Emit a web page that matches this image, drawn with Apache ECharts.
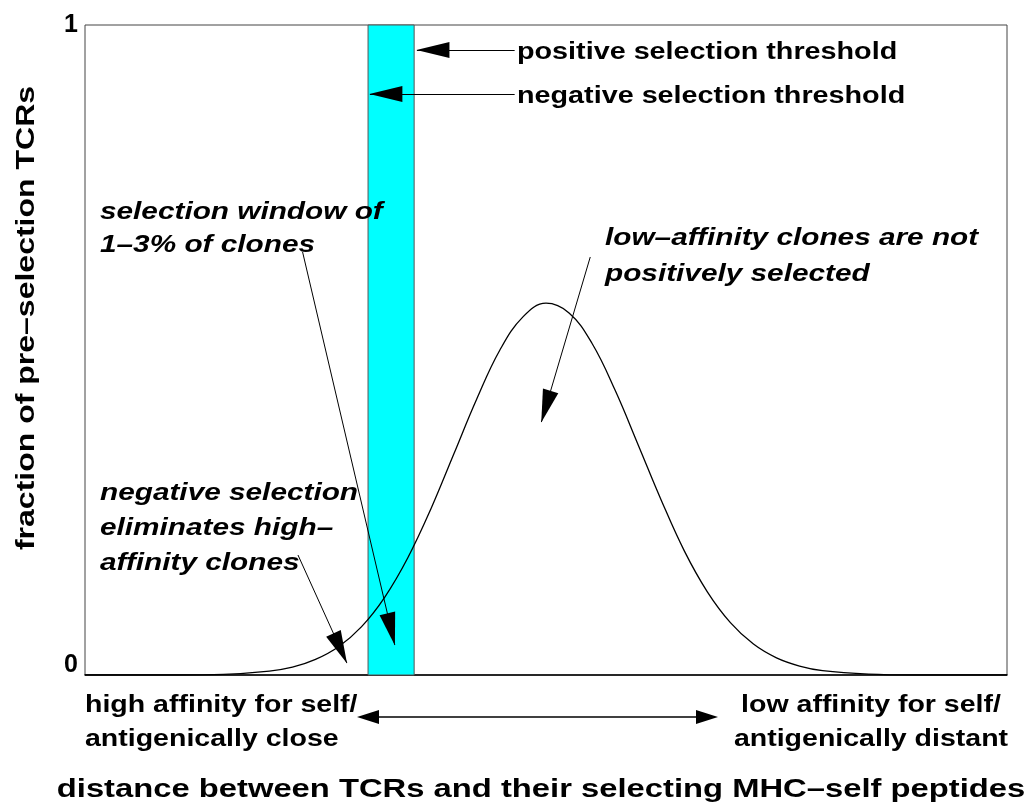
<!DOCTYPE html>
<html>
<head>
<meta charset="utf-8">
<script src="https://cdn.jsdelivr.net/npm/echarts@6/dist/echarts.min.js"></script>
<style>
    html, body { margin: 0; padding: 0; background: #fff; }
    #chart { width: 1031px; height: 808px; }
</style>
</head>
<body>
<div id="chart"></div>
<script>
// distance axis (arbitrary units 0..100) and fraction of pre-selection TCRs
const distance = [0, 5, 10, 15, 20, 22.5, 25, 27.5, 30, 32.5, 35, 37.5, 40, 42.5, 45, 47.5, 50,
    52.5, 55, 57.5, 60, 62.5, 65, 67.5, 70, 72.5, 75, 77.5, 80, 85, 90, 95, 100];
const fraction = [0, 0, 0, 0.001, 0.006, 0.012, 0.024, 0.0435, 0.0744, 0.1195, 0.18, 0.255, 0.34, 0.425, 0.5, 0.551, 0.572,
    0.557, 0.51, 0.438, 0.354, 0.269, 0.191, 0.128, 0.0806, 0.0476, 0.0264, 0.0138, 0.0067, 0.0013, 0, 0, 0];

// selection window (negative threshold .. positive threshold)
const windowRange = [30.7, 35.7];
const yTicks = [0, 1];

const font = "'Liberation Sans', Arial, Helvetica, sans-serif";

// annotation arrows in data coords: [from, to]
const arrows = [
    [[46.6, 0.9615], [36.0, 0.9615]],   // positive selection threshold
    [[46.6, 0.8938], [30.9, 0.8938]],   // negative selection threshold
    [[23.6, 0.6508], [33.6, 0.0462]],   // selection window
    [[23.1, 0.1846], [28.4, 0.0185]],   // negative selection
    [[54.8, 0.6431], [49.5, 0.3892]]    // low affinity
];

const chart = echarts.init(document.getElementById('chart'), null, { renderer: 'canvas' });

// the original glyphs are wide, so stretch text horizontally a bit
function txt(x, y, text, opts, sx, rot) {
    return {
        type: 'text',
        x: x, y: y,
        z: 100,
        scaleX: sx || 1.25,
        rotation: rot || 0,
        style: Object.assign({
            text: text,
            font: 'bold 23px ' + font,
            fill: '#000',
            textAlign: 'left',
            textVerticalAlign: 'middle'
        }, opts || {})
    };
}

const italic = 'italic bold 24px ' + font;

const option = {
    animation: false,
    backgroundColor: '#fff',
    grid: {
        left: 85, right: 24, top: 25, bottom: 133,
        show: true,
        borderColor: '#444',
        borderWidth: 1
    },
    xAxis: {
        type: 'value',
        min: 0, max: 100,
        axisLine: { show: true, lineStyle: { color: '#000', width: 1.5 } },
        axisTick: { show: false },
        axisLabel: { show: false },
        splitLine: { show: false }
    },
    yAxis: {
        type: 'value',
        min: 0, max: 1, interval: 1,
        axisLine: { show: false },
        axisTick: { show: false },
        splitLine: { show: false },
        axisLabel: {
            margin: 7,
            formatter: function (v) {
                return v === 0 ? '{z|0}' : '{o|1}';
            },
            rich: {
                z: { fontFamily: font, fontWeight: 'bold', fontSize: 25, color: '#000', padding: [0, 0, 20, 0] },
                o: { fontFamily: font, fontWeight: 'bold', fontSize: 25, color: '#000', padding: [0, 0, 0, 0] }
            }
        },
        data: yTicks
    },
    series: [{
        type: 'line',
        data: distance.map((d, i) => [d, fraction[i]]),
        smooth: 0.4,
        showSymbol: false,
        lineStyle: { color: '#000', width: 1.3 },
        z: 5,
        markArea: {
            silent: true,
            itemStyle: { color: '#00ffff', borderColor: '#555', borderWidth: 1 },
            data: [[{ xAxis: windowRange[0] }, { xAxis: windowRange[1] }]]
        },
        markLine: {
            silent: true,
            animation: false,
            symbol: ['none', 'triangle'],
            symbolSize: [16, 33],
            symbolOffset: [[0, 0], [0, 16]],
            label: { show: false },
            lineStyle: { color: '#000', width: 1, type: 'solid' },
            data: arrows.map(a => [{ coord: a[0] }, { coord: a[1] }])
        }
    }],
    graphic: [
        txt(517, 53, 'positive selection threshold'),
        txt(517, 97, 'negative selection threshold'),
        txt(100, 229, 'selection window of\n1\u20133% of clones', { font: italic, lineHeight: 33 }, 1.24),
        txt(100, 528, 'negative selection\neliminates high\u2013\naffinity clones', { font: italic, lineHeight: 35 }, 1.24),
        txt(605, 256, 'low\u2013affinity clones are not\npositively selected', { font: italic, lineHeight: 36 }, 1.24),
        txt(85, 723, 'high affinity for self/\nantigenically close', { lineHeight: 34 }, 1.24),
        txt(871, 723, 'low affinity for self/\nantigenically distant', { lineHeight: 34, textAlign: 'center' }, 1.24),
        txt(541, 790, 'distance between TCRs and their selecting MHC\u2013self peptides',
            { font: 'bold 26px ' + font, textAlign: 'center' }, 1.26),
        txt(27, 318, 'fraction of pre\u2013selection TCRs',
            { font: 'bold 25px ' + font, textAlign: 'center' }, 1.28, Math.PI / 2),
        // double arrow under the axis
        { type: 'line', z: 100, shape: { x1: 375, y1: 717, x2: 700, y2: 717 }, style: { stroke: '#000', lineWidth: 1.3 } },
        { type: 'polygon', z: 100, shape: { points: [[357, 717], [379, 710], [379, 724]] }, style: { fill: '#000' } },
        { type: 'polygon', z: 100, shape: { points: [[718, 717], [696, 710], [696, 724]] }, style: { fill: '#000' } }
    ]
};

chart.setOption(option);
</script>
</body>
</html>
